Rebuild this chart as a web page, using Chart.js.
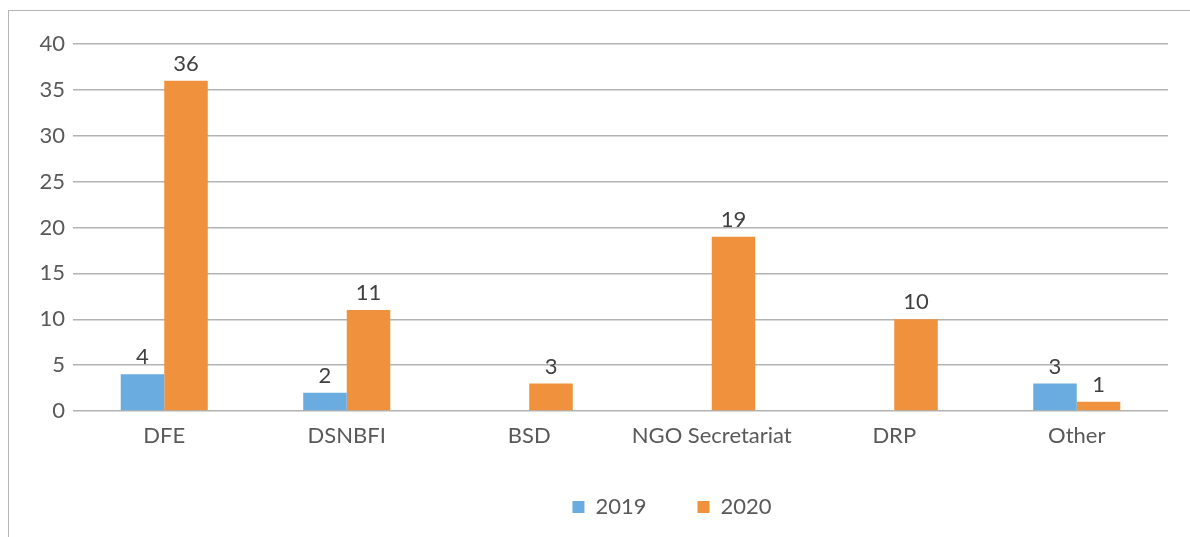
<!DOCTYPE html>
<html>
<head>
<meta charset="utf-8">
<script src="https://cdn.jsdelivr.net/npm/chart.js@4"></script>
<style>
    html, body { margin: 0; padding: 0; background: #fff; overflow: hidden; }
    #frame {
        position: absolute; left: 8px; top: 10px; width: 2000px; height: 2000px;
        border-top: 1.5px solid #b5b5b5; border-left: 1.5px solid #b5b5b5;
    }
    #wrap { position: absolute; left: 0; top: 0; width: 1344px; height: 537px; }
</style>
</head>
<body>
<div id="frame"></div>
<div id="wrap"><canvas id="deptChart"></canvas></div>
<script>
const categories = ["DFE", "DSNBFI", "BSD", "NGO Secretariat", "DRP", "Other"];
const values2019 = [4, 2, 0, 0, 0, 3];
const values2020 = [36, 11, 3, 19, 10, 1];
const yTicks = [0, 5, 10, 15, 20, 25, 30, 35, 40];

const FONT = "Lato";
const TEXT = "#595959";

// writes the value above each bar, zeros are left out
const valueLabels = {
    id: "valueLabels",
    afterDatasetsDraw(chart) {
        const ctx = chart.ctx;
        ctx.save();
        ctx.font = "22px " + FONT;
        ctx.fillStyle = "#404040";
        ctx.textAlign = "center";
        ctx.textBaseline = "bottom";
        chart.data.datasets.forEach((ds, i) => {
            chart.getDatasetMeta(i).data.forEach((bar, j) => {
                const v = ds.data[j];
                if (!v) return;
                ctx.fillText(String(v), bar.x, bar.y - 6);
            });
        });
        ctx.restore();
    }
};

// canvas is wider than the window; an empty right axis keeps the plot narrow
// so the legend ends up right of the plot centre like in the source
new Chart(document.getElementById("deptChart"), {
    type: "bar",
    data: {
        labels: categories,
        datasets: [
            { label: "2019", data: values2019, backgroundColor: "#6aace0", borderWidth: 0 },
            { label: "2020", data: values2020, backgroundColor: "#f0923d", borderWidth: 0 }
        ]
    },
    options: {
        responsive: true,
        maintainAspectRatio: false,
        animation: false,
        categoryPercentage: 0.477,
        barPercentage: 1,
        layout: { padding: { top: 44, right: 0, bottom: 9, left: 0 } },
        scales: {
            x: {
                grid: { display: false },
                border: { display: false },
                ticks: { color: TEXT, padding: 4, font: { family: FONT, size: 22 } },
                afterFit(scale) { scale.height = 34; }
            },
            y: {
                min: 0,
                max: 40,
                afterBuildTicks(scale) { scale.ticks = yTicks.map(v => ({ value: v })); },
                grid: { color: "#b3b3b3", lineWidth: 1.5, drawTicks: false },
                border: { display: false },
                ticks: { color: TEXT, padding: 8, font: { family: FONT, size: 22 } },
                afterFit(scale) { scale.width = 73; }
            },
            spacer: {
                position: "right",
                display: true,
                min: 0,
                max: 40,
                grid: { display: false },
                border: { display: false },
                ticks: { display: false },
                afterFit(scale) { scale.width = 176; }
            }
        },
        plugins: {
            tooltip: { enabled: false },
            legend: {
                position: "bottom",
                labels: {
                    color: TEXT,
                    boxWidth: 12,
                    boxHeight: 12,
                    padding: 51,
                    font: { family: FONT, size: 22 }
                }
            }
        }
    },
    plugins: [valueLabels]
});
</script>
</body>
</html>
